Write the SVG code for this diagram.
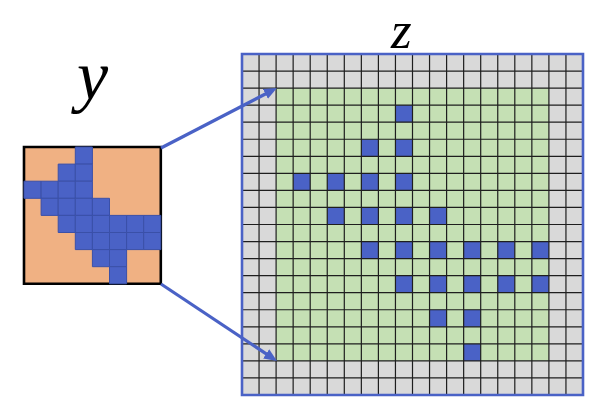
<svg xmlns="http://www.w3.org/2000/svg" width="594" height="398" viewBox="0 0 594 398">
<style>
  .lbl { font-family: "Liberation Serif", "DejaVu Serif", serif; font-style: italic; font-size: 70px; fill: #000; }
  .lblz { font-size: 53px; }
  .gray { fill: #d9d9d9; }
  .green { fill: #c5e0b4; }
  .orange { fill: #f0b183; }
  .blue rect { fill: #4a62c6; }
  .yblue rect { fill: #4a62c6; stroke: #3a50a8; stroke-width: 1; vector-effect: non-scaling-stroke; }
  .grid { fill: none; stroke: #1e1e1e; stroke-width: 1.2; vector-effect: non-scaling-stroke; }
  .zborder { fill: none; stroke: #4a62c6; stroke-width: 2.6; vector-effect: non-scaling-stroke; }
  .yborder { fill: none; stroke: #000; stroke-width: 2.6; vector-effect: non-scaling-stroke; }
  .conn { fill: none; stroke: #4a62c6; stroke-width: 3.2; }
</style>
<defs>
  <marker id="ah" markerUnits="userSpaceOnUse" markerWidth="14" markerHeight="12" refX="1" refY="5.5" orient="auto">
    <path d="M0,0 L13,5.5 L0,11 z" fill="#4a62c6"/>
  </marker>
</defs>
<rect width="594" height="398" fill="#fff"/>

<g id="label-y"><text class="lbl" x="77" y="99">y</text></g>
<g id="label-z"><text class="lbl lblz" x="391" y="47.5">z</text></g>

<g id="node-y" transform="translate(24 147) scale(17.1)">
  <rect class="orange" x="0" y="0" width="8" height="8"/>
  <rect class="yborder" x="0" y="0" width="8" height="8"/>
  <g class="yblue">
    <rect x="3" y="0" width="1" height="1"/>
    <rect x="2" y="1" width="1" height="1"/><rect x="3" y="1" width="1" height="1"/>
    <rect x="0" y="2" width="1" height="1"/><rect x="1" y="2" width="1" height="1"/><rect x="2" y="2" width="1" height="1"/><rect x="3" y="2" width="1" height="1"/>
    <rect x="1" y="3" width="1" height="1"/><rect x="2" y="3" width="1" height="1"/><rect x="3" y="3" width="1" height="1"/><rect x="4" y="3" width="1" height="1"/>
    <rect x="2" y="4" width="1" height="1"/><rect x="3" y="4" width="1" height="1"/><rect x="4" y="4" width="1" height="1"/><rect x="5" y="4" width="1" height="1"/><rect x="6" y="4" width="1" height="1"/><rect x="7" y="4" width="1" height="1"/>
    <rect x="3" y="5" width="1" height="1"/><rect x="4" y="5" width="1" height="1"/><rect x="5" y="5" width="1" height="1"/><rect x="6" y="5" width="1" height="1"/><rect x="7" y="5" width="1" height="1"/>
    <rect x="4" y="6" width="1" height="1"/><rect x="5" y="6" width="1" height="1"/>
    <rect x="5" y="7" width="1" height="1"/>
  </g>
</g>

<g id="node-z" transform="translate(242 54) scale(17.05)">
  <rect class="gray" x="0" y="0" width="20" height="20"/>
  <rect class="green" x="2" y="2" width="16" height="16"/>
  <g class="blue">
    <rect x="9" y="3" width="1" height="1"/>
    <rect x="7" y="5" width="1" height="1"/><rect x="9" y="5" width="1" height="1"/>
    <rect x="3" y="7" width="1" height="1"/><rect x="5" y="7" width="1" height="1"/><rect x="7" y="7" width="1" height="1"/><rect x="9" y="7" width="1" height="1"/>
    <rect x="5" y="9" width="1" height="1"/><rect x="7" y="9" width="1" height="1"/><rect x="9" y="9" width="1" height="1"/><rect x="11" y="9" width="1" height="1"/>
    <rect x="7" y="11" width="1" height="1"/><rect x="9" y="11" width="1" height="1"/><rect x="11" y="11" width="1" height="1"/><rect x="13" y="11" width="1" height="1"/><rect x="15" y="11" width="1" height="1"/><rect x="17" y="11" width="1" height="1"/>
    <rect x="9" y="13" width="1" height="1"/><rect x="11" y="13" width="1" height="1"/><rect x="13" y="13" width="1" height="1"/><rect x="15" y="13" width="1" height="1"/><rect x="17" y="13" width="1" height="1"/>
    <rect x="11" y="15" width="1" height="1"/><rect x="13" y="15" width="1" height="1"/>
    <rect x="13" y="17" width="1" height="1"/>
  </g>
  <path class="grid" d="M0 1H20M0 2H20M0 3H20M0 4H20M0 5H20M0 6H20M0 7H20M0 8H20M0 9H20M0 10H20M0 11H20M0 12H20M0 13H20M0 14H20M0 15H20M0 16H20M0 17H20M0 18H20M0 19H20M1 0V20M2 0V20M3 0V20M4 0V20M5 0V20M6 0V20M7 0V20M8 0V20M9 0V20M10 0V20M11 0V20M12 0V20M13 0V20M14 0V20M15 0V20M16 0V20M17 0V20M18 0V20M19 0V20"/>
  <rect class="zborder" x="0" y="0" width="20" height="20"/>
</g>

<g id="connectors">
  <line class="conn" x1="161" y1="148" x2="266.3" y2="93.5" marker-end="url(#ah)"/>
  <line class="conn" x1="161" y1="284" x2="267" y2="354.4" marker-end="url(#ah)"/>
</g>
</svg>
